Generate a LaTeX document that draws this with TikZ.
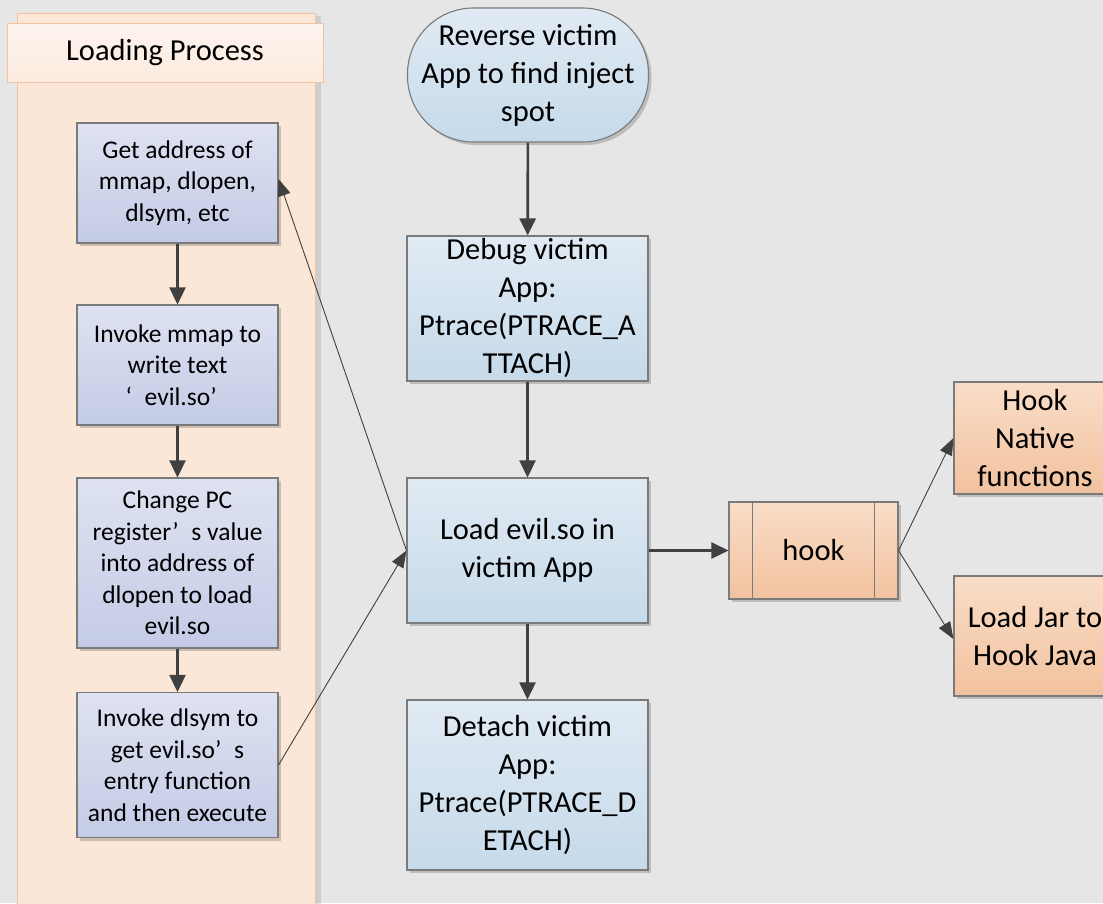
\documentclass[tikz,border=0pt]{standalone}
\usepackage{fontspec}
\setmainfont{Carlito}
\usetikzlibrary{arrows.meta,shadows}
\definecolor{canvas}{HTML}{E6E6E6}
\definecolor{poolfill}{HTML}{FBE7D8}
\definecolor{poolline}{HTML}{F2C3A0}
\definecolor{poolhead}{HTML}{FDF4EE}
\definecolor{edgegray}{HTML}{7A7A7A}
\definecolor{arrowgray}{HTML}{404040}
\definecolor{lilactop}{HTML}{DEE2F1}
\definecolor{lilacbot}{HTML}{C4CBE6}
\definecolor{bluetop}{HTML}{E0EAF3}
\definecolor{bluebot}{HTML}{C6DAEA}
\definecolor{orangetop}{HTML}{F9DDC8}
\definecolor{orangebot}{HTML}{F2C29E}
\newcommand\qgap{\kern0.5em}
\tikzset{
  boxbase/.style={draw=edgegray, line width=1.1pt, inner sep=0pt, align=center,
    drop shadow={shadow xshift=3pt, shadow yshift=-3pt, opacity=0.18, fill=black}},
  lbox/.style={boxbase, top color=lilactop, bottom color=lilacbot,
    minimum width=201pt, font=\fontsize{25.5}{31.5}\selectfont},
  cbox/.style={boxbase, top color=bluetop, bottom color=bluebot,
    minimum width=241pt, font=\fontsize{30.5}{38}\selectfont},
  obox/.style={boxbase, top color=orangetop, bottom color=orangebot,
    font=\fontsize{30.5}{38}\selectfont},
  flow/.style={draw=arrowgray, line width=2.6pt, -{Triangle[length=17pt,width=16pt]}},
  thinflow/.style={draw=arrowgray, line width=0.9pt, -{Triangle[length=17pt,width=13pt]}},
}
\begin{document}
\begin{tikzpicture}[x=1pt,y=-1pt]
\useasboundingbox (0,0) rectangle (1103,903);
\clip (0,0) rectangle (1103,903);
\fill[canvas] (0,0) rectangle (1103,903);

% swimlane "Loading Process"
\fill[black, opacity=0.10] (315,16) rectangle (321,910);
\draw[poolline, line width=1pt, fill=poolfill] (17,13) rectangle (315,912);
\draw[poolline, line width=1pt, top color=poolhead, bottom color=poolfill!70!poolhead]
  (7,23) rectangle (323,82);
\node[font=\fontsize{30.5}{38}\selectfont] (lanetitle) at (165,53) {Loading Process};

% steps inside the lane
\node[lbox, minimum height=120pt] (g1) at (177.5,183) {Get address of\\mmap, dlopen,\\dlsym, etc};
\node[lbox, minimum height=120pt] (g2) at (177.5,365) {Invoke mmap to\\write text\\‘\qgap evil.so’\qgap};
\node[lbox, minimum height=170pt] (g3) at (177.5,563) {Change PC\\register’\qgap s value\\into address of\\dlopen to load\\evil.so};
\node[lbox, minimum height=145pt] (g4) at (177.5,765) {Invoke dlsym to\\get evil.so’\qgap s\\entry function\\and then execute};

% main column
\node[cbox, minimum height=134pt, rounded corners=66pt] (rev) at (528,75) {Reverse victim\\App to find inject\\spot};
\node[cbox, minimum height=145pt] (dbg) at (527.5,308.5) {Debug victim\\App:\\Ptrace(PTRACE\_A\\TTACH)};
\node[cbox, minimum height=145pt] (load) at (527.5,550.5) {Load evil.so in\\victim App};
\node[cbox, minimum height=170pt] (det) at (527.5,785) {Detach victim\\App:\\Ptrace(PTRACE\_D\\ETACH)};

% hook branch
\node[obox, minimum width=169pt, minimum height=97pt] (hook) at (813.5,550.5) {hook};
\draw[edgegray, line width=1.1pt] ([xshift=24pt]hook.north west) -- ([xshift=24pt]hook.south west)
  ([xshift=-24pt]hook.north east) -- ([xshift=-24pt]hook.south east);
\node[obox, minimum width=162pt, minimum height=112pt] (native) at (1035,438) {Hook\\Native\\functions};
\node[obox, minimum width=162pt, minimum height=120pt] (jar) at (1035,636) {Load Jar to\\Hook Java};

% connectors
\draw[flow] (g1) -- (g2);
\draw[flow] (g2) -- (g3);
\draw[flow] (g3) -- (g4);
\draw[flow] (rev) -- (dbg);
\draw[flow] (dbg) -- (load);
\draw[flow] (load) -- (det);
\draw[flow] (load) -- (hook);
\draw[thinflow] (load.west) -- ([yshift=4pt]g1.east);
\draw[thinflow] (g4.east) -- (load.west);
\draw[thinflow] (hook.east) -- (native.west);
\draw[thinflow] (hook.east) -- ([yshift=-3pt]jar.west);
\end{tikzpicture}
\end{document}
